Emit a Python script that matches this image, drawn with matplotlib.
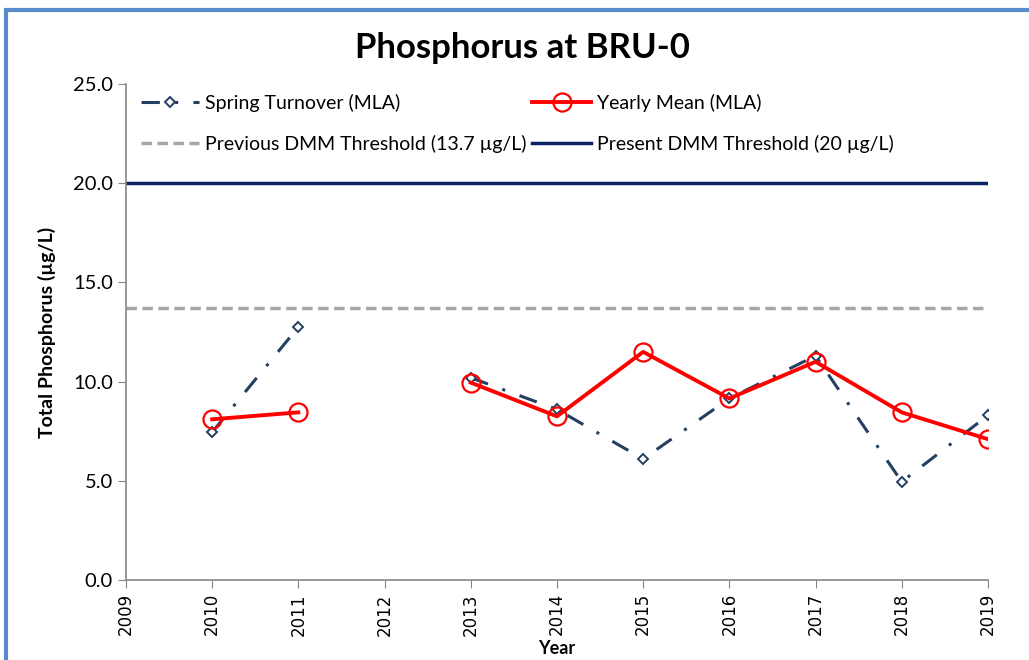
import matplotlib
matplotlib.use('Agg')

import numpy as np
import matplotlib.pyplot as plt
from matplotlib.patches import Rectangle
from matplotlib.ticker import FormatStrFormatter

years = [2010, 2011, 2012, 2013, 2014, 2015, 2016, 2017, 2018, 2019]
spring_turnover = [7.45, 12.75, np.nan, 10.2, 8.6, 6.1, 9.15, 11.3, 4.95, 8.3]
yearly_mean = [8.1, 8.45, np.nan, 9.95, 8.25, 11.5, 9.15, 11.0, 8.45, 7.1]
previous_threshold = 13.7
present_threshold = 20.0
x_ticks = list(range(2009, 2020))

plt.rcParams['font.family'] = ['Lato', 'DejaVu Sans']

fig = plt.figure(figsize=(10.29, 6.6), dpi=100)
ax = fig.add_axes([0.1224, 0.1212, 0.8377, 0.7515])

# blue frame around the chart
fig.patches.append(Rectangle((0.006, -0.05), 1.1, 1.035, transform=fig.transFigure,
                             fill=False, edgecolor='#5B8ACB', linewidth=3))

l_prev, = ax.plot([2009, 2019], [previous_threshold] * 2, color='#A6A6A6',
                  linewidth=2.5, linestyle=(0, (3, 1.6)),
                  label='Previous DMM Threshold (13.7 µg/L)')
l_pres, = ax.plot([2009, 2019], [present_threshold] * 2, color='#0C2164',
                  linewidth=2.5, label='Present DMM Threshold (20 µg/L)')
l_spring, = ax.plot(years, spring_turnover, color='#243F60', linewidth=2.2,
                    linestyle=(0, (6, 5, 1, 5)), marker='D', markersize=5.5,
                    markerfacecolor='white', markeredgecolor='#243F60',
                    markeredgewidth=1.4, label='Spring Turnover (MLA)')
l_mean, = ax.plot(years, yearly_mean, color='#FF0000', linewidth=2.8,
                  marker='o', markersize=13, markerfacecolor='none',
                  markeredgecolor='#FF0000', markeredgewidth=1.6,
                  label='Yearly Mean (MLA)')

ax.set_xlim(2009, 2019)
ax.set_ylim(0, 25)
ax.set_xticks(x_ticks)
ax.set_xticklabels([str(y) for y in x_ticks], rotation=90, fontsize=12,
                   family='DejaVu Sans')
ax.set_yticks([0, 5, 10, 15, 20, 25])
ax.yaxis.set_major_formatter(FormatStrFormatter('%.1f'))
ax.tick_params(axis='y', labelsize=14.5, length=6, color='#868686')
ax.tick_params(axis='x', length=6, color='#868686', direction='out')

for side in ['top', 'right']:
    ax.spines[side].set_visible(False)
for side in ['left', 'bottom']:
    ax.spines[side].set_color('#868686')
    ax.spines[side].set_linewidth(1.2)

fig.text(522 / 1029, 1 - 48 / 660, 'Phosphorus at BRU-0', fontsize=25,
         fontweight='bold', ha='center', va='center')
ax.set_ylabel('Total Phosphorus (µg/L)', fontsize=14, fontweight='bold', labelpad=12)
ax.set_xlabel('Year', fontsize=13, fontweight='bold', labelpad=3)

ax.legend([l_spring, l_prev, l_mean, l_pres],
          [l_spring.get_label(), l_prev.get_label(), l_mean.get_label(), l_pres.get_label()],
          ncol=2, frameon=False, fontsize=14, loc='upper left',
          bbox_to_anchor=(-0.003, 1.015), handlelength=3.0, handletextpad=0.3,
          columnspacing=0.3, labelspacing=1.15)

fig.savefig('out.png', dpi=100)
